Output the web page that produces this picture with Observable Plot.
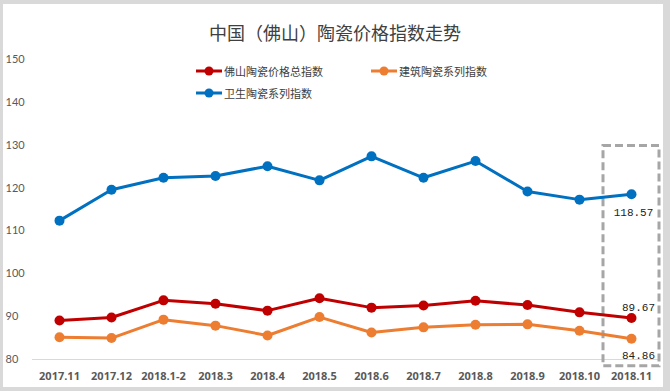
<!DOCTYPE html>
<html>
<head>
<meta charset="utf-8">
<script src="https://cdn.jsdelivr.net/npm/d3@7"></script>
<script src="https://cdn.jsdelivr.net/npm/@observablehq/plot@0.6"></script>
<style>
  html, body { margin: 0; padding: 0; background: #d9d9d9; }
  #wrap { position: relative; width: 670px; height: 391px; overflow: hidden; background: #d9d9d9; }
  #panel { position: absolute; left: 3px; top: 4px; width: 660px; height: 383px; background: #fff; }
  #chart { position: absolute; left: 0; top: 0; }
  #title { position: absolute; left: 0; width: 670px; top: 19px; text-align: center;
           font-family: "Noto Sans CJK SC", sans-serif; font-size: 18px; font-weight: normal; color: #404040; }
  .leg { position: absolute; font-family: "Noto Sans CJK SC", sans-serif; font-size: 11px; color: #404040;
         display: flex; align-items: center; white-space: nowrap; }
  .leg svg { margin-right: 1px; }
</style>
</head>
<body>
<div id="wrap">
  <div id="panel"></div>
  <div id="chart"></div>
  <div id="title">中国（佛山）陶瓷价格指数走势</div>
  <div id="legend"></div>
</div>
<script>
const months = ["2017.11","2017.12","2018.1-2","2018.3","2018.4","2018.5","2018.6","2018.7","2018.8","2018.9","2018.10","2018.11"];
const seriesNames = ["佛山陶瓷价格总指数","建筑陶瓷系列指数","卫生陶瓷系列指数"];
const seriesColors = ["#c00000","#ed7d31","#0070c0"];
const totalIndex =    [89.1, 89.8, 93.8, 93.0, 91.4, 94.3, 92.1, 92.6, 93.7, 92.7, 91.0, 89.67];
const buildingIndex = [85.2, 85.0, 89.3, 87.9, 85.6, 89.9, 86.3, 87.5, 88.1, 88.2, 86.7, 84.86];
const sanitaryIndex = [112.4, 119.6, 122.4, 122.8, 125.1, 121.8, 127.4, 122.4, 126.3, 119.2, 117.3, 118.57];
const yTicks = [80, 90, 100, 110, 120, 130, 140, 150];

const seriesValues = [totalIndex, buildingIndex, sanitaryIndex];
const rows = [];
seriesNames.forEach((name, i) => {
  months.forEach((m, j) => rows.push({series: name, month: m, value: seriesValues[i][j]}));
});
const lastMonth = months[months.length - 1];
const lastOf = i => rows.filter(d => d.month === lastMonth && d.series === seriesNames[i]);

const color = {domain: seriesNames, range: seriesColors};
const labelStyle = {x: "month", y: "value", text: d => d.value.toFixed(2), fontSize: 11, fill: "#222",
  fontFamily: "'Liberation Mono', 'DejaVu Sans Mono', monospace"};

const chart = Plot.plot({
  width: 670,
  height: 391,
  marginLeft: 57,
  marginRight: 37,
  marginTop: 59,
  marginBottom: 32,
  style: {background: "transparent", overflow: "visible"},
  x: {type: "point", domain: months, padding: 0, label: null},
  y: {domain: [80, 150], label: null},
  color,
  marks: [
    Plot.ruleY([80], {stroke: "#d9d9d9", strokeWidth: 1, insetLeft: -25, insetRight: -27}),
    Plot.axisY(yTicks, {tickSize: 0, tickPadding: 0, textAnchor: "start", dx: -52, fontSize: 11,
      fill: "#595959", fontFamily: "Lato, 'Open Sans', sans-serif", label: null}),
    Plot.axisX({tickSize: 0, tickPadding: 13, fontSize: 11, fontWeight: "bold", fill: "#595959",
      fontFamily: "'Open Sans', sans-serif", label: null}),
    Plot.rect([0], {x1: () => lastMonth, x2: () => lastMonth,
      y1: () => 129.8, y2: () => 78.4, insetLeft: -28, insetRight: -28,
      fill: "none", stroke: "#a6a6a6", strokeWidth: 3, strokeDasharray: "8,4"}),
    Plot.line(rows, {x: "month", y: "value", z: "series", stroke: "series", strokeWidth: 3}),
    Plot.dot(rows, {x: "month", y: "value", fill: "series", r: 5}),
    Plot.text(lastOf(0), {...labelStyle, dx: 7, dy: -11}),
    Plot.text(lastOf(1), {...labelStyle, dx: 7, dy: 17}),
    Plot.text(lastOf(2), {...labelStyle, dx: 2, dy: 18})
  ]
});
document.getElementById("chart").appendChild(chart);

// Legend
const legendPos = [[195, 63], [370, 63], [195, 85]];
const legend = document.getElementById("legend");
seriesNames.forEach((name, i) => {
  const div = document.createElement("div");
  div.className = "leg";
  div.style.left = legendPos[i][0] + "px";
  div.style.top = legendPos[i][1] + "px";
  div.innerHTML = `<svg width="28" height="12"><line x1="1" x2="27" y1="6" y2="6" stroke="${seriesColors[i]}" stroke-width="3"/><circle cx="14" cy="6" r="4.5" fill="${seriesColors[i]}"/></svg><span>${name}</span>`;
  legend.appendChild(div);
});
</script>
</body>
</html>
